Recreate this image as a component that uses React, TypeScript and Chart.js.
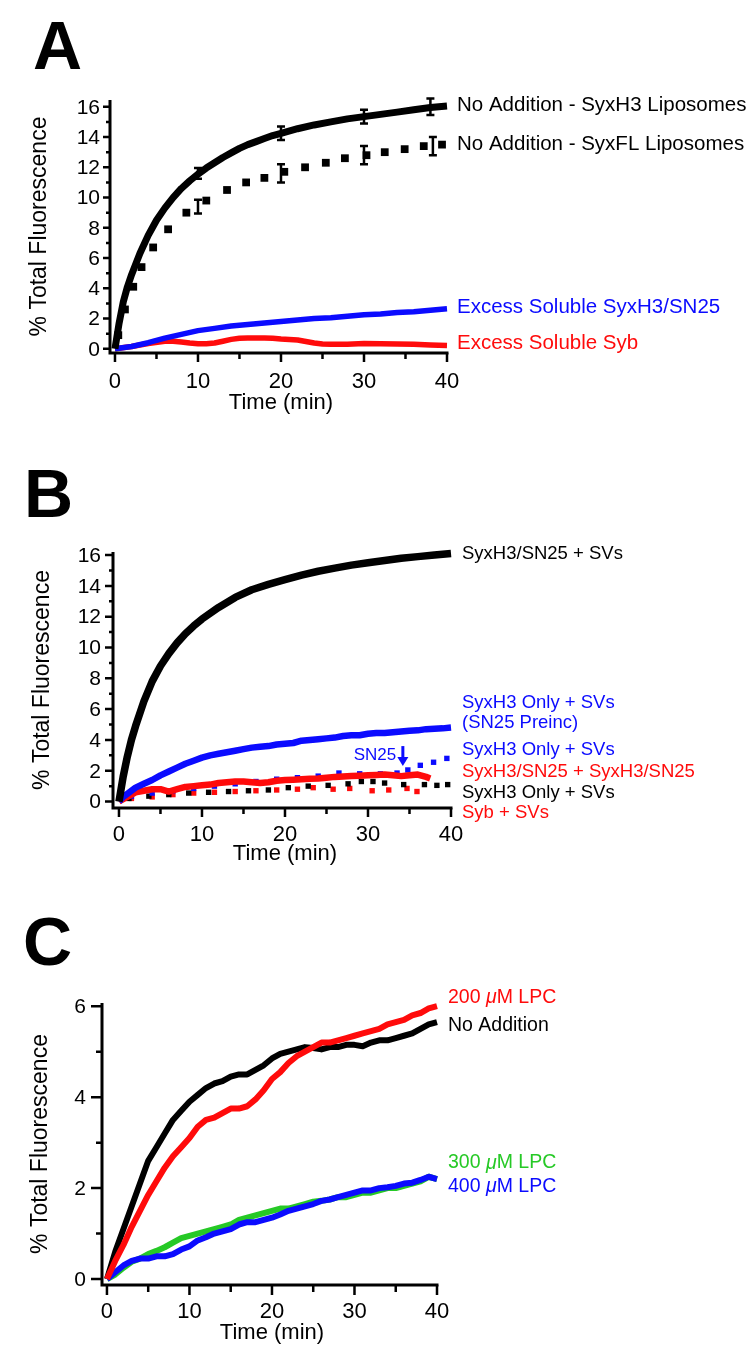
import React, { useEffect, useRef } from "react";
import { Chart, registerables } from "chart.js";

Chart.register(...registerables);

const FONT = '"Liberation Sans", Arial, Helvetica, sans-serif';
const BLACK = "#000000";
const BLUE = "#0b0bff";
const RED = "#ff0b0b";
const GREEN = "#26c926";

// ---------------- Panel A ----------------
const timeA_H3 = [0, 0.5, 1, 1.5, 2, 3, 4, 5, 6, 7, 8, 9, 10, 11, 12, 13, 14, 15, 16, 17, 18, 19, 20, 22, 24, 26, 28, 30, 32, 34, 36, 38, 40];
const noAddSyxH3 = [0, 1.7, 3.1, 4.1, 4.9, 6.3, 7.5, 8.5, 9.3, 10.0, 10.6, 11.1, 11.55, 11.95, 12.3, 12.65, 12.95, 13.25, 13.5, 13.7, 13.9, 14.1, 14.25, 14.55, 14.8, 15.0, 15.2, 15.35, 15.5, 15.65, 15.8, 15.95, 16.05];

const timeA_FL = [0.4, 1.2, 2.2, 3.2, 4.6, 6.4, 8.6, 11, 13.5, 15.8, 18, 20.4, 22.9, 25.4, 27.7, 30.3, 32.5, 34.9, 37.2, 39.4];
const noAddSyxFL = [0.9, 2.6, 4.1, 5.4, 6.7, 7.9, 9.0, 9.8, 10.5, 11.0, 11.3, 11.7, 12.0, 12.3, 12.6, 12.8, 13.0, 13.2, 13.4, 13.5];

const errTimeH3 = [10, 20, 30, 38];
const errMeanH3 = [11.6, 14.25, 15.35, 16.0];
const errSdH3 = [0.35, 0.45, 0.45, 0.55];
const errTimeFL = [10, 20, 30, 38.3];
const errMeanFL = [9.4, 11.6, 12.8, 13.4];
const errSdFL = [0.45, 0.6, 0.6, 0.6];

const timeA_blue = [0, 2, 4, 6, 8, 10, 12, 14, 16, 18, 20, 22, 24, 26, 28, 30, 32, 34, 36, 38, 40];
const excessSyxH3SN25 = [0, 0.15, 0.4, 0.7, 0.95, 1.2, 1.35, 1.5, 1.6, 1.7, 1.8, 1.9, 2.0, 2.05, 2.15, 2.25, 2.3, 2.4, 2.45, 2.55, 2.65];

const timeA_red = [0, 2, 4, 6, 7, 8, 9, 10, 11, 12, 13, 14, 15, 16, 17, 18, 19, 20, 21, 22, 23, 24, 25, 26, 28, 30, 32, 34, 36, 38, 40];
const excessSyb = [0, 0.15, 0.35, 0.5, 0.5, 0.45, 0.38, 0.33, 0.33, 0.38, 0.5, 0.62, 0.7, 0.72, 0.72, 0.72, 0.7, 0.65, 0.62, 0.58, 0.48, 0.38, 0.32, 0.3, 0.3, 0.35, 0.33, 0.32, 0.3, 0.25, 0.22];

// ---------------- Panel B ----------------
const timeB_black = [0, 0.5, 1, 1.5, 2, 3, 4, 5, 6, 7, 8, 9, 10, 12, 14, 16, 18, 20, 22, 24, 26, 28, 30, 32, 34, 36, 38, 40];
const syxH3SN25SVs = [0, 1.6, 2.9, 4.0, 4.9, 6.5, 7.8, 8.8, 9.6, 10.3, 10.9, 11.4, 11.85, 12.6, 13.25, 13.75, 14.1, 14.4, 14.7, 14.95, 15.15, 15.35, 15.5, 15.65, 15.8, 15.9, 16.0, 16.1];

const timeB_preinc = [0, 0.5, 1, 2, 3, 4, 5, 6, 7, 8, 9, 10, 11, 12, 13, 14, 15, 16, 17, 18, 19, 20, 21, 22, 23, 24, 25, 26, 27, 28, 29, 30, 31, 32, 33, 34, 35, 36, 37, 38, 39, 40];
const syxH3OnlyPreinc = [0, 0.3, 0.5, 0.9, 1.15, 1.4, 1.7, 1.95, 2.2, 2.45, 2.65, 2.85, 3.0, 3.1, 3.2, 3.3, 3.4, 3.5, 3.55, 3.6, 3.7, 3.75, 3.8, 3.95, 4.0, 4.05, 4.1, 4.15, 4.25, 4.3, 4.3, 4.4, 4.45, 4.45, 4.5, 4.55, 4.6, 4.62, 4.7, 4.72, 4.75, 4.8];

const timeB_blueDots = [1.5, 4, 6.5, 9, 11.5, 14, 16.5, 19, 21.5, 24, 26.5, 29, 31.5, 33.5, 34.8, 36.3, 37.9, 39.5];
const syxH3OnlySN25Late = [0.35, 0.55, 0.7, 0.85, 1.0, 1.15, 1.3, 1.45, 1.55, 1.65, 1.85, 1.8, 1.8, 1.85, 2.05, 2.35, 2.55, 2.8];

const timeB_red = [0, 1, 2, 3, 4, 5, 6, 7, 8, 9, 10, 11, 12, 13, 14, 15, 16, 17, 18, 19, 20, 21, 22, 23, 24, 25, 26, 27, 28, 29, 30, 31, 32, 33, 34, 35, 36, 37, 37.5];
const syxH3SN25Soluble = [0, 0.3, 0.6, 0.7, 0.8, 0.8, 0.65, 0.8, 0.95, 1.0, 1.05, 1.1, 1.2, 1.25, 1.3, 1.3, 1.25, 1.2, 1.25, 1.35, 1.4, 1.42, 1.45, 1.48, 1.5, 1.55, 1.6, 1.62, 1.65, 1.68, 1.7, 1.72, 1.75, 1.7, 1.65, 1.7, 1.75, 1.6, 1.5];

const timeB_blackDots = [1.2, 3.6, 6, 8.4, 10.8, 13.2, 15.6, 18, 20.4, 22.8, 25.2, 27.6, 29.2, 30.6, 32, 34.3, 36.8, 38.3, 39.6];
const syxH3OnlySVs = [0.2, 0.35, 0.45, 0.55, 0.6, 0.65, 0.7, 0.75, 0.9, 1.0, 1.05, 1.15, 1.3, 1.3, 1.2, 1.1, 1.1, 1.05, 1.1];

const timeB_redDots = [1.5, 4, 6.5, 9, 11.5, 14, 16.5, 19, 21.5, 23.4, 25.8, 27.8, 30.5, 32.5, 34.7, 35.9];
const sybSVs = [0.2, 0.3, 0.45, 0.55, 0.6, 0.65, 0.7, 0.75, 0.8, 0.9, 0.8, 0.85, 0.7, 0.75, 0.85, 0.65];

// ---------------- Panel C ----------------
const timeC = [0, 1, 2, 3, 4, 5, 6, 7, 8, 9, 10, 11, 12, 13, 14, 15, 16, 17, 18, 19, 20, 21, 22, 23, 24, 25, 26, 27, 28, 29, 30, 31, 32, 33, 34, 35, 36, 37, 38, 39, 40];
const noAdditionC = [0, 0.6, 1.1, 1.6, 2.1, 2.6, 2.9, 3.2, 3.5, 3.7, 3.9, 4.05, 4.2, 4.3, 4.35, 4.45, 4.5, 4.5, 4.6, 4.7, 4.85, 4.95, 5.0, 5.05, 5.1, 5.08, 5.05, 5.1, 5.1, 5.15, 5.15, 5.12, 5.2, 5.25, 5.25, 5.3, 5.35, 5.4, 5.5, 5.6, 5.65];
const lpc200 = [0, 0.4, 0.75, 1.15, 1.5, 1.85, 2.15, 2.45, 2.7, 2.9, 3.1, 3.35, 3.5, 3.55, 3.65, 3.75, 3.75, 3.8, 3.95, 4.15, 4.4, 4.55, 4.75, 4.9, 5.0, 5.1, 5.2, 5.2, 5.25, 5.3, 5.35, 5.4, 5.45, 5.5, 5.6, 5.65, 5.7, 5.8, 5.85, 5.95, 6.0];
const lpc300 = [0, 0.1, 0.25, 0.38, 0.45, 0.55, 0.62, 0.7, 0.8, 0.9, 0.95, 1.0, 1.05, 1.1, 1.15, 1.2, 1.3, 1.35, 1.4, 1.45, 1.5, 1.55, 1.55, 1.6, 1.65, 1.7, 1.72, 1.75, 1.8, 1.8, 1.85, 1.9, 1.9, 1.95, 2.0, 2.0, 2.05, 2.1, 2.15, 2.25, 2.2];
const lpc400 = [0, 0.15, 0.3, 0.4, 0.45, 0.45, 0.5, 0.5, 0.55, 0.65, 0.72, 0.85, 0.92, 1.0, 1.05, 1.1, 1.2, 1.25, 1.25, 1.3, 1.35, 1.42, 1.5, 1.55, 1.6, 1.65, 1.72, 1.75, 1.8, 1.85, 1.9, 1.95, 1.95, 2.0, 2.02, 2.05, 2.1, 2.12, 2.18, 2.25, 2.2];

// ---------------- ticks ----------------
const yTicksAB = [0, 2, 4, 6, 8, 10, 12, 14, 16];
const yMinorAB = [1, 3, 5, 7, 9, 11, 13, 15];
const yTicksC = [0, 2, 4, 6];
const yMinorC = [1, 3, 5];
const xTicks = [0, 10, 20, 30, 40];
const xMinor = [5, 15, 25, 35];

const pts = (xs: number[], ys: number[]) => xs.map((x, i) => ({ x, y: ys[i] }));

const solid = (xs: number[], ys: number[], color: string, width: number, order: number) => ({
  data: pts(xs, ys),
  borderColor: color,
  backgroundColor: color,
  borderWidth: width,
  pointRadius: 0,
  tension: 0,
  fill: false,
  order,
  clip: false,
  borderJoinStyle: "round",
  borderCapStyle: "butt",
});

const dots = (xs: number[], ys: number[], color: string, r: number, order: number) => ({
  data: pts(xs, ys),
  showLine: false,
  pointStyle: "rect",
  pointRadius: r,
  pointBackgroundColor: color,
  pointBorderColor: color,
  pointBorderWidth: 0,
  borderColor: color,
  backgroundColor: color,
  order,
  clip: false,
});

type Part = { t: string; italic?: boolean };
type SeriesLabel = { parts: Part[]; color: string; at: number };
type ErrSet = { x: number[]; m: number[]; e: number[] };

interface PanelCfg {
  top: number;
  height: number;
  padding: { left: number; right: number; top: number; bottom: number };
  xRange: [number, number];
  yRange: [number, number];
  yMajor: number[];
  yMinor: number[];
  yMajorLen: number;
  yMinorLen: number;
  xMajorLen: number;
  xMinorLen: number;
  yLabelGap: number;
  xLabelGap: number;
  xTitleGap: number;
  yTitleX: number;
  letter: string;
  letterX: number;
  letterY: number;
  labelGap: number;
  labelSize: number;
  datasets: any[];
  labels: SeriesLabel[];
  errors?: ErrSet[];
  arrow?: { x: number; from: number; to: number; text: string; textX: number; textY: number };
}

function makePlugin(cfg: PanelCfg) {
  return {
    id: "decor" + cfg.letter,
    afterDatasetsDraw(chart: any) {
      const ctx: CanvasRenderingContext2D = chart.ctx;
      const xs = chart.scales.x;
      const ys = chart.scales.y;
      const { left, right, top, bottom } = chart.chartArea;
      ctx.save();

      // error bars
      if (cfg.errors) {
        ctx.strokeStyle = BLACK;
        ctx.lineWidth = 2.5;
        ctx.lineCap = "butt";
        cfg.errors.forEach((es) => {
          es.x.forEach((xv, i) => {
            const px = xs.getPixelForValue(xv);
            const y1 = ys.getPixelForValue(es.m[i] + es.e[i]);
            const y2 = ys.getPixelForValue(es.m[i] - es.e[i]);
            ctx.beginPath();
            ctx.moveTo(px, y1);
            ctx.lineTo(px, y2);
            ctx.moveTo(px - 4, y1);
            ctx.lineTo(px + 4, y1);
            ctx.moveTo(px - 4, y2);
            ctx.lineTo(px + 4, y2);
            ctx.stroke();
          });
        });
      }

      // axes
      ctx.strokeStyle = BLACK;
      ctx.lineWidth = 3;
      ctx.lineCap = "butt";
      ctx.beginPath();
      ctx.moveTo(left, top);
      ctx.lineTo(left, bottom + 1.5);
      ctx.moveTo(left - 1.5, bottom);
      ctx.lineTo(right + 1.5, bottom);
      ctx.stroke();

      // tick marks
      ctx.lineWidth = 2.5;
      ctx.beginPath();
      cfg.yMajor.forEach((v) => {
        const py = ys.getPixelForValue(v);
        ctx.moveTo(left - cfg.yMajorLen, py);
        ctx.lineTo(left, py);
      });
      cfg.yMinor.forEach((v) => {
        const py = ys.getPixelForValue(v);
        ctx.moveTo(left - cfg.yMinorLen, py);
        ctx.lineTo(left, py);
      });
      xTicks.forEach((v) => {
        const px = xs.getPixelForValue(v);
        ctx.moveTo(px, bottom);
        ctx.lineTo(px, bottom + cfg.xMajorLen);
      });
      xMinor.forEach((v) => {
        const px = xs.getPixelForValue(v);
        ctx.moveTo(px, bottom);
        ctx.lineTo(px, bottom + cfg.xMinorLen);
      });
      ctx.stroke();

      // tick labels
      ctx.fillStyle = BLACK;
      ctx.font = `21px ${FONT}`;
      ctx.textAlign = "right";
      ctx.textBaseline = "middle";
      cfg.yMajor.forEach((v) => {
        ctx.fillText(String(v), left - cfg.yLabelGap, ys.getPixelForValue(v) + 1);
      });
      ctx.font = `22px ${FONT}`;
      ctx.textAlign = "center";
      xTicks.forEach((v) => {
        ctx.fillText(String(v), xs.getPixelForValue(v), bottom + cfg.xLabelGap);
      });

      // axis titles
      ctx.font = `22px ${FONT}`;
      ctx.fillText("Time (min)", xs.getPixelForValue(20), bottom + cfg.xTitleGap);
      ctx.save();
      ctx.translate(cfg.yTitleX, (top + bottom) / 2);
      ctx.rotate(-Math.PI / 2);
      ctx.font = `23px ${FONT}`;
      ctx.textAlign = "center";
      ctx.fillText("% Total Fluorescence", 0, 0);
      ctx.restore();

      // panel letter
      ctx.font = `bold 68px ${FONT}`;
      ctx.textAlign = "left";
      ctx.textBaseline = "alphabetic";
      ctx.fillText(cfg.letter, cfg.letterX, cfg.letterY);

      // series labels
      ctx.textBaseline = "middle";
      cfg.labels.forEach((lb) => {
        let x = right + cfg.labelGap;
        const y = ys.getPixelForValue(lb.at);
        ctx.fillStyle = lb.color;
        lb.parts.forEach((p) => {
          ctx.font = `${p.italic ? "italic " : ""}${cfg.labelSize}px ${FONT}`;
          ctx.fillText(p.t, x, y);
          x += ctx.measureText(p.t).width;
        });
      });

      // arrow annotation
      if (cfg.arrow) {
        const a = cfg.arrow;
        const px = xs.getPixelForValue(a.x);
        const yTop = ys.getPixelForValue(a.from);
        const yTip = ys.getPixelForValue(a.to);
        ctx.strokeStyle = BLUE;
        ctx.fillStyle = BLUE;
        ctx.lineWidth = 3;
        ctx.beginPath();
        ctx.moveTo(px, yTop);
        ctx.lineTo(px, yTip - 7);
        ctx.stroke();
        ctx.beginPath();
        ctx.moveTo(px - 5.5, yTip - 9);
        ctx.lineTo(px + 5.5, yTip - 9);
        ctx.lineTo(px, yTip);
        ctx.closePath();
        ctx.fill();
        ctx.font = `17px ${FONT}`;
        ctx.textAlign = "right";
        ctx.textBaseline = "middle";
        ctx.fillText(a.text, xs.getPixelForValue(a.textX), ys.getPixelForValue(a.textY));
      }

      ctx.restore();
    },
  };
}

const panelA: PanelCfg = {
  top: 0,
  height: 420,
  padding: { left: 110, right: 303, top: 100, bottom: 67 },
  xRange: [-0.6, 40],
  yRange: [-0.28, 16.45],
  yMajor: yTicksAB,
  yMinor: yMinorAB,
  yMajorLen: 7,
  yMinorLen: 4,
  xMajorLen: 9,
  xMinorLen: 6,
  yLabelGap: 10,
  xLabelGap: 29,
  xTitleGap: 50,
  yTitleX: 40,
  letter: "A",
  letterX: 33,
  letterY: 69,
  labelGap: 10,
  labelSize: 20.5,
  datasets: [
    solid(timeA_red, excessSyb, RED, 5.5, 3),
    solid(timeA_blue, excessSyxH3SN25, BLUE, 5.5, 2),
    dots(timeA_FL, noAddSyxFL, BLACK, 5.5, 1),
    solid(timeA_H3, noAddSyxH3, BLACK, 7, 0),
  ],
  labels: [
    { parts: [{ t: "No Addition - SyxH3 Liposomes" }], color: BLACK, at: 16.1 },
    { parts: [{ t: "No Addition - SyxFL Liposomes" }], color: BLACK, at: 13.5 },
    { parts: [{ t: "Excess Soluble SyxH3/SN25" }], color: BLUE, at: 2.75 },
    { parts: [{ t: "Excess Soluble Syb" }], color: RED, at: 0.33 },
  ],
  errors: [
    { x: errTimeH3, m: errMeanH3, e: errSdH3 },
    { x: errTimeFL, m: errMeanFL, e: errSdFL },
  ],
};

const panelB: PanelCfg = {
  top: 420,
  height: 450,
  padding: { left: 113, right: 299, top: 132, bottom: 62 },
  xRange: [-0.72, 40],
  yRange: [-0.42, 16.2],
  yMajor: yTicksAB,
  yMinor: yMinorAB,
  yMajorLen: 8,
  yMinorLen: 4,
  xMajorLen: 9,
  xMinorLen: 6,
  yLabelGap: 12,
  xLabelGap: 27,
  xTitleGap: 46,
  yTitleX: 43,
  letter: "B",
  letterX: 24,
  letterY: 97,
  labelGap: 11,
  labelSize: 18.5,
  datasets: [
    dots(timeB_redDots, sybSVs, RED, 3.8, 5),
    dots(timeB_blackDots, syxH3OnlySVs, BLACK, 3.8, 4),
    dots(timeB_blueDots, syxH3OnlySN25Late, BLUE, 3.8, 3),
    solid(timeB_red, syxH3SN25Soluble, RED, 6.5, 2),
    solid(timeB_preinc, syxH3OnlyPreinc, BLUE, 6.5, 1),
    solid(timeB_black, syxH3SN25SVs, BLACK, 7.5, 0),
  ],
  labels: [
    { parts: [{ t: "SyxH3/SN25 + SVs" }], color: BLACK, at: 16.1 },
    { parts: [{ t: "SyxH3 Only + SVs" }], color: BLUE, at: 6.4 },
    { parts: [{ t: "(SN25 Preinc)" }], color: BLUE, at: 5.1 },
    { parts: [{ t: "SyxH3 Only + SVs" }], color: BLUE, at: 3.34 },
    { parts: [{ t: "SyxH3/SN25 + SyxH3/SN25" }], color: RED, at: 1.92 },
    { parts: [{ t: "SyxH3 Only + SVs" }], color: BLACK, at: 0.55 },
    { parts: [{ t: "Syb + SVs" }], color: RED, at: -0.75 },
  ],
  arrow: { x: 34.2, from: 3.6, to: 2.3, text: "SN25", textX: 33.4, textY: 3.0 },
};

const panelC: PanelCfg = {
  top: 870,
  height: 498,
  padding: { left: 102, right: 313, top: 133, bottom: 83 },
  xRange: [-0.6, 40],
  yRange: [-0.13, 6.07],
  yMajor: yTicksC,
  yMinor: yMinorC,
  yMajorLen: 11,
  yMinorLen: 6,
  xMajorLen: 10,
  xMinorLen: 7,
  yLabelGap: 16,
  xLabelGap: 27,
  xTitleGap: 48,
  yTitleX: 41,
  letter: "C",
  letterX: 23,
  letterY: 95,
  labelGap: 11,
  labelSize: 19.5,
  datasets: [
    solid(timeC, noAdditionC, BLACK, 6, 3),
    solid(timeC, lpc300, GREEN, 6, 2),
    solid(timeC, lpc400, BLUE, 6, 1),
    solid(timeC, lpc200, RED, 6, 0),
  ],
  labels: [
    { parts: [{ t: "200 " }, { t: "\u03bc", italic: true }, { t: "M LPC" }], color: RED, at: 6.18 },
    { parts: [{ t: "No Addition" }], color: BLACK, at: 5.58 },
    { parts: [{ t: "300 " }, { t: "\u03bc", italic: true }, { t: "M LPC" }], color: GREEN, at: 2.55 },
    { parts: [{ t: "400 " }, { t: "\u03bc", italic: true }, { t: "M LPC" }], color: BLUE, at: 2.04 },
  ],
};

function Panel({ cfg }: { cfg: PanelCfg }) {
  const ref = useRef<HTMLCanvasElement | null>(null);
  useEffect(() => {
    if (!ref.current) return;
    const chart = new Chart(ref.current, {
      type: "line",
      data: { datasets: cfg.datasets as any },
      options: {
        responsive: false,
        animation: false,
        events: [],
        layout: { padding: cfg.padding },
        plugins: { legend: { display: false }, tooltip: { enabled: false } },
        scales: {
          x: { type: "linear", min: cfg.xRange[0], max: cfg.xRange[1], display: false },
          y: { type: "linear", min: cfg.yRange[0], max: cfg.yRange[1], display: false },
        },
      },
      plugins: [makePlugin(cfg)],
    } as any);
    return () => chart.destroy();
  }, [cfg]);
  return (
    <canvas
      ref={ref}
      width={750}
      height={cfg.height}
      style={{ position: "absolute", left: 0, top: cfg.top, width: 750, height: cfg.height }}
    />
  );
}

export default function App() {
  return (
    <div style={{ position: "absolute", left: 0, top: 0, width: 750, height: 1368, background: "#ffffff", overflow: "hidden" }}>
      <Panel cfg={panelA} />
      <Panel cfg={panelB} />
      <Panel cfg={panelC} />
    </div>
  );
}
